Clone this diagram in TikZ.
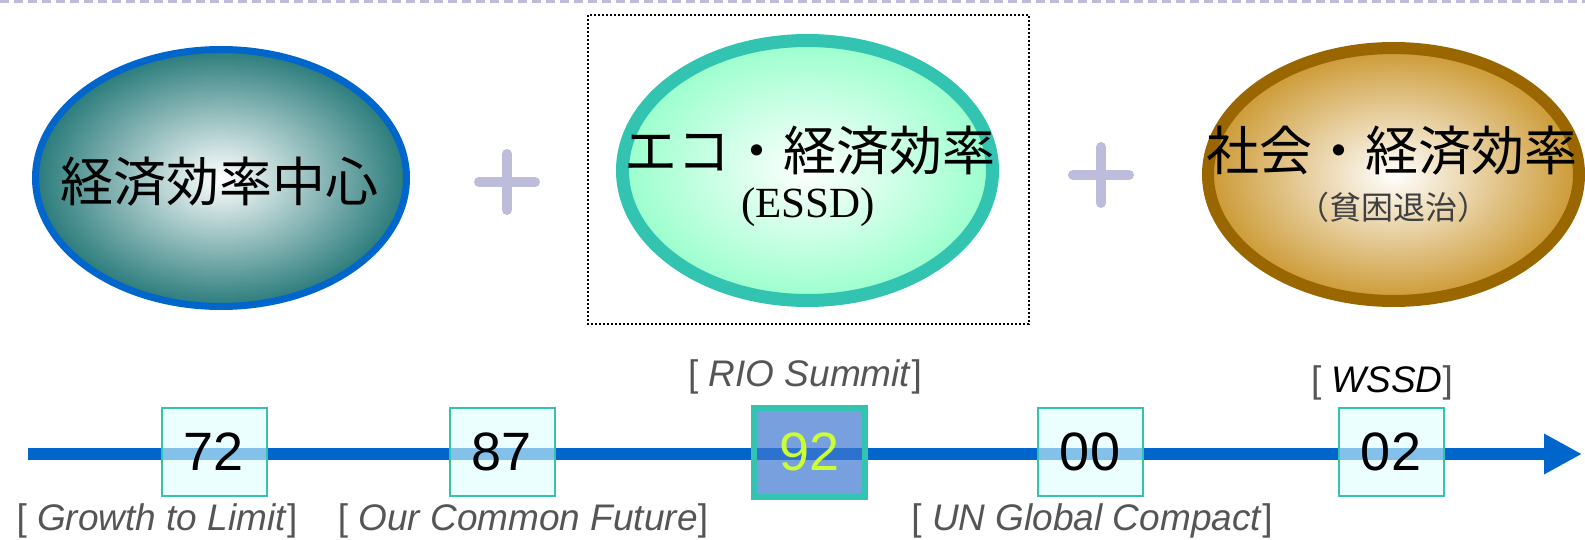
\documentclass[tikz,border=0pt]{standalone}
\usepackage{fontspec}
\setmainfont{Liberation Serif}
\setsansfont{Liberation Sans}
\newfontfamily\jp{Noto Sans CJK JP}
\usetikzlibrary{arrows.meta,shapes.geometric,positioning}

\definecolor{lineblue}{HTML}{0066CC}
\definecolor{lavender}{HTML}{BDBDDB}
\definecolor{tealbd}{HTML}{33C4B1}
\definecolor{darkteal}{HTML}{2A7B7B}
\definecolor{mint}{HTML}{99FFCC}
\definecolor{gold}{HTML}{CC9933}
\definecolor{brownbd}{HTML}{996600}
\definecolor{labelgray}{HTML}{555555}
\definecolor{yearbox}{HTML}{DDFFFF}
\definecolor{rioblue}{HTML}{3F78D0}
\definecolor{lime}{HTML}{CCFF33}

\begin{document}
\begin{tikzpicture}[x=0.5pt,y=-0.5pt,
    oval/.style={ellipse,inner sep=0pt},
    bigjp/.style={font=\jp\fontsize{26.5pt}{30pt}\selectfont},
    year/.style={draw=tealbd,line width=1pt,fill=yearbox,fill opacity=0.6,
      text opacity=1,minimum width=52.5pt,minimum height=44pt,inner sep=0pt,
      font=\sffamily\fontsize{27pt}{30pt}\selectfont},
    event/.style={text=labelgray,inner sep=0pt,
      font=\sffamily\fontsize{18.5pt}{21pt}\selectfont},
    plus/.style={draw=lavender,line width=5pt,line cap=round}]

  \useasboundingbox (0,0) rectangle (1585,540);

  % top rule
  \draw[lavender,line width=1.5pt,dash pattern=on 4.5pt off 2.5pt] (0,1.5) -- (1585,1.5);

  % the three ovals
  \node[oval,draw=lineblue,line width=3.5pt,inner color=white,outer color=darkteal,
    minimum width=185.5pt,minimum height=128.5pt] (econ) at (221,178) {};
  \node[oval,draw=tealbd,line width=6.5pt,inner color=white,outer color=mint,
    minimum width=185pt,minimum height=130pt] (eco) at (807.5,170.5) {};
  \node[oval,draw=brownbd,line width=6pt,inner color=white,outer color=gold,
    minimum width=185.5pt,minimum height=126.5pt] (social) at (1393.5,174.5) {};
  \draw[line width=0.6pt,dash pattern=on 1pt off 1pt] (588,15) rectangle (1029,324);

  \node[bigjp] (econ-t) at (220,182) {経済効率中心};
  \node[bigjp] (eco-t) at (810,151) {エコ・経済効率};
  \node[font=\fontsize{21.5pt}{24pt}\selectfont] (eco-s) at (808,207) {(ESSD)};
  \node[bigjp] (social-t) at (1392,151) {社会・経済効率};
  \node[font=\jp\fontsize{16pt}{18pt}\selectfont,text=black!75] (social-s) at (1393,207) {（貧困退治）};

  \coordinate (plus1) at (507,182);
  \coordinate (plus2) at (1101,175);
  \foreach \p in {plus1,plus2} {
    \draw[plus] ([xshift=-14pt]\p) -- ([xshift=14pt]\p);
    \draw[plus] ([yshift=-14pt]\p) -- ([yshift=14pt]\p);
  }

  % time line
  \coordinate (tl-start) at (28,454);
  \coordinate (tl-end) at (1582,454);
  \draw[lineblue,line width=6pt,-{Triangle[length=19pt,width=19pt]}] (tl-start) -- (tl-end);

  \node[year] (y72) at (214,452) {72};
  \node[year] (y87) at (502,452) {87};
  \node[year,fill=rioblue,fill opacity=0.7,line width=3pt,minimum width=55.5pt,
    minimum height=44.5pt,text=lime] (y92) at (809.5,452) {92};
  \node[year] (y00) at (1090,452) {00};
  \node[year] (y02) at (1391,452) {02};

  \node[event] (growth) at (157,521) {[ \textit{Growth to Limit}]};
  \node[event] (future) at (523,521) {[ \textit{Our Common Future}]};
  \node[event] (rio) at (805,377) {[ \textit{RIO Summit}]};
  \node[event] (compact) at (1092,521) {[ \textit{UN Global Compact}]};
  \node[event] (wssd) at (1382,383) {[ \textcolor{black}{\textit{WSSD}}]};

\end{tikzpicture}
\end{document}
